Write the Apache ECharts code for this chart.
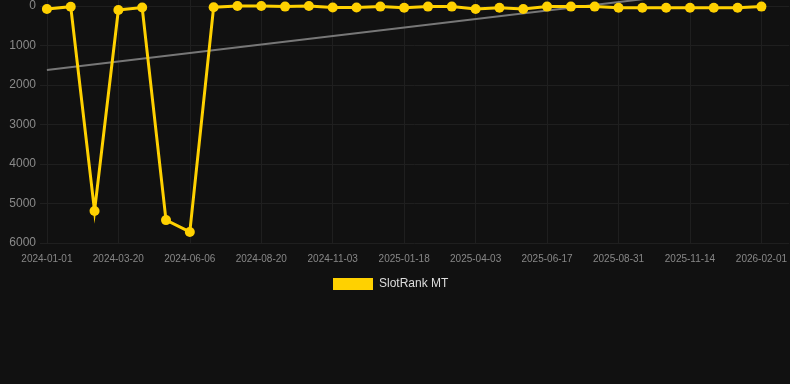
<!DOCTYPE html>
<html>
<head>
<meta charset="utf-8">
<style>
html,body{margin:0;padding:0;background:#111111;}
#chart{width:790px;height:384px;}
</style>
<script src="https://cdn.jsdelivr.net/npm/echarts@6/dist/echarts.min.js"></script>
</head>
<body>
<div id="chart"></div>
<script>
// Tick labels shown every 3rd data point
var tickLabels = ['2024-01-01','2024-03-20','2024-06-06','2024-08-20','2024-11-03','2025-01-18','2025-04-03','2025-06-17','2025-08-31','2025-11-14','2026-02-01'];
// Rank values, one per data point (index 0..30)
var rankValues = [75, 17, 5190, 100, 40, 5420, 5720, 30, 2, 2, 15, 2, 40, 40, 15, 45, 15, 15, 75, 45, 75, 15, 15, 15, 45, 45, 45, 45, 45, 45, 15];
// Trend line end values (at first and last index)
var trendValues = [1620, -530];
var yTicks = [0, 1000, 2000, 3000, 4000, 5000, 6000];

var n = rankValues.length;
var rankData = rankValues.map(function (v, i) { return [i, v]; });
var trendData = [[0, trendValues[0]], [n - 1, trendValues[1]]];
var xTicks = tickLabels.map(function (_, i) { return i * 3; });

var chart = echarts.init(document.getElementById('chart'), null, {renderer: 'canvas'});
chart.setOption({
  backgroundColor: '#111111',
  animation: false,
  grid: {left: 40, right: 0, top: 0, bottom: 141, containLabel: false},
  legend: {
    data: ['SlotRank MT'],
    top: 273,
    left: 328,
    itemWidth: 40,
    itemHeight: 12,
    itemGap: 10,
    icon: 'rect',
    textStyle: {color: '#dddddd', fontSize: 12, fontFamily: 'Liberation Sans, Arial, sans-serif', padding: [0, 0, 0, 1]}
  },
  xAxis: {
    type: 'value',
    min: -0.29,
    max: 31.17,
    axisLine: {show: false},
    axisTick: {show: false, customValues: xTicks},
    axisLabel: {
      customValues: xTicks,
      color: '#888888',
      fontSize: 10,
      margin: 11,
      fontFamily: 'Liberation Sans, Arial, sans-serif',
      formatter: function (v) { return tickLabels[Math.round(v / 3)] || ''; }
    },
    splitLine: {show: true, lineStyle: {color: '#1f1f1f', width: 1}}
  },
  yAxis: {
    type: 'value',
    inverse: true,
    min: -152,
    max: 6000,
    axisLine: {show: false},
    axisTick: {show: false, customValues: yTicks},
    axisLabel: {
      customValues: yTicks,
      color: '#8a8a8a',
      fontSize: 12,
      margin: 4,
      fontFamily: 'Liberation Sans, Arial, sans-serif',
      formatter: function (v) { return String(v); }
    },
    splitLine: {show: true, lineStyle: {color: '#1f1f1f', width: 1}}
  },
  series: [
    {
      name: 'SlotRank MT',
      type: 'line',
      data: rankData,
      symbol: 'circle',
      symbolSize: 10,
      lineStyle: {color: '#FFD100', width: 3, join: 'miter', miterLimit: 10},
      itemStyle: {color: '#FFD100'},
      z: 3
    },
    {
      name: 'Trend',
      type: 'line',
      data: trendData,
      symbol: 'none',
      lineStyle: {color: '#777777', width: 2},
      clip: true,
      z: 2
    }
  ]
});
</script>
</body>
</html>
